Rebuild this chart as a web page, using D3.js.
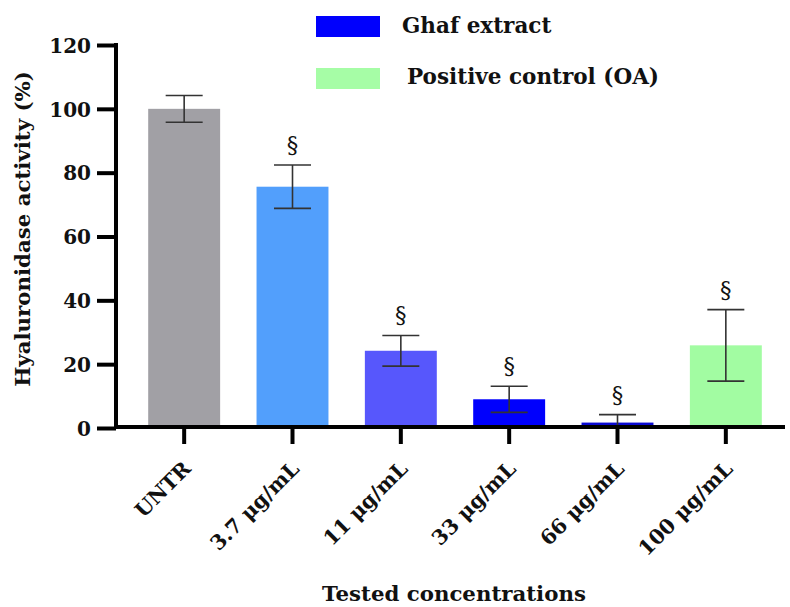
<!DOCTYPE html>
<html>
<head>
<meta charset="utf-8">
<script src="https://cdn.jsdelivr.net/npm/d3@7"></script>
<style>
  body { margin: 0; background: #fff; }
  text { font-family: "DejaVu Serif", "Liberation Serif", serif; font-weight: bold; fill: #111; }
</style>
</head>
<body>
<div id="chart"></div>
<script>
// data
const categories = ["UNTR", "3.7 μg/mL", "11 μg/mL", "33 μg/mL", "66 μg/mL", "100 μg/mL"];
const means = [100, 75.6, 24.2, 9.0, 1.7, 25.9];
const errors = [4.2, 6.8, 4.8, 4.1, 2.5, 11.2];
const marks = ["", "§", "§", "§", "§", "§"];
const barColors = ["#a1a0a5", "#529ffc", "#5757fc", "#0000fd", "#0a0ad2", "#a2fca2"];
const yTicks = [0, 20, 40, 60, 80, 100, 120];
const legendLabels = ["Ghaf extract", "Positive control (OA)"];
const legendColors = ["#0000fd", "#a6fda6"];

const width = 790, height = 607;
const svg = d3.select("#chart").append("svg")
  .attr("width", width)
  .attr("height", height);

const x = d3.scaleBand()
  .domain(categories)
  .range([130, 780])
  .paddingInner(0.336)
  .paddingOuter(0.168);

const y = d3.scaleLinear()
  .domain([0, 120])
  .range([428, 45]);

// bars
svg.append("g")
  .selectAll("rect")
  .data(categories)
  .join("rect")
    .attr("x", d => x(d))
    .attr("y", (d, i) => y(means[i]))
    .attr("width", x.bandwidth())
    .attr("height", (d, i) => y(0) - y(means[i]))
    .attr("fill", (d, i) => barColors[i]);

// error bars
const capW = 37;
const err = svg.append("g")
  .attr("stroke", "#333")
  .attr("stroke-width", 1.6);
categories.forEach((c, i) => {
  const cx = x(c) + x.bandwidth() / 2;
  const lo = Math.max(0, means[i] - errors[i]);
  const hi = means[i] + errors[i];
  err.append("line")
    .attr("x1", cx).attr("x2", cx)
    .attr("y1", y(hi)).attr("y2", y(lo));
  err.append("line")
    .attr("x1", cx - capW / 2).attr("x2", cx + capW / 2)
    .attr("y1", y(hi)).attr("y2", y(hi));
  if (means[i] - errors[i] > 0) {
    err.append("line")
      .attr("x1", cx - capW / 2).attr("x2", cx + capW / 2)
      .attr("y1", y(lo)).attr("y2", y(lo));
  }
});

// significance marks
svg.append("g")
  .selectAll("text")
  .data(categories)
  .join("text")
    .attr("x", d => x(d) + x.bandwidth() / 2)
    .attr("y", (d, i) => y(means[i] + errors[i]) - 13)
    .attr("text-anchor", "middle")
    .style("font-weight", "normal")
    .style("font-size", "23px")
    .text((d, i) => marks[i]);

// y axis
const yAxis = svg.append("g")
  .attr("transform", "translate(116,0)")
  .call(d3.axisLeft(y).tickValues(yTicks).tickSize(19).tickPadding(6));
yAxis.select(".domain").remove();
yAxis.selectAll(".tick line").attr("stroke", "#000").attr("stroke-width", 4);
yAxis.selectAll(".tick text").style("font-size", "20px").attr("dy", "0.36em");
svg.append("line")
  .attr("x1", 116).attr("x2", 116)
  .attr("y1", y(120) - 2).attr("y2", y(0) + 1)
  .attr("stroke", "#000").attr("stroke-width", 4);

// x axis
const xAxis = svg.append("g")
  .attr("transform", "translate(0,427)")
  .call(d3.axisBottom(x).tickSize(17).tickPadding(0));
xAxis.select(".domain").remove();
xAxis.selectAll(".tick line").attr("stroke", "#000").attr("stroke-width", 4);
xAxis.selectAll(".tick text")
  .style("font-size", "20.5px")
  .attr("text-anchor", "end")
  .attr("y", 0)
  .attr("dy", null)
  .attr("transform", "translate(8,43) rotate(-45)");
svg.append("line")
  .attr("x1", 114).attr("x2", 785)
  .attr("y1", 427).attr("y2", 427)
  .attr("stroke", "#000").attr("stroke-width", 4);

// axis titles
svg.append("text")
  .attr("transform", "translate(30,229) rotate(-90)")
  .attr("text-anchor", "middle")
  .style("font-size", "21.3px")
  .text("Hyaluronidase activity (%)");

svg.append("text")
  .attr("x", 454)
  .attr("y", 601)
  .attr("text-anchor", "middle")
  .style("font-size", "21.3px")
  .text("Tested concentrations");

// legend
const legend = svg.append("g");
legendLabels.forEach((l, i) => {
  legend.append("rect")
    .attr("x", 316).attr("y", 16 + i * 52)
    .attr("width", 64).attr("height", 21)
    .attr("fill", legendColors[i]);
  legend.append("text")
    .attr("x", 402 + i * 5).attr("y", 33 + i * 51)
    .style("font-size", "21.5px")
    .text(l);
});
</script>
</body>
</html>
